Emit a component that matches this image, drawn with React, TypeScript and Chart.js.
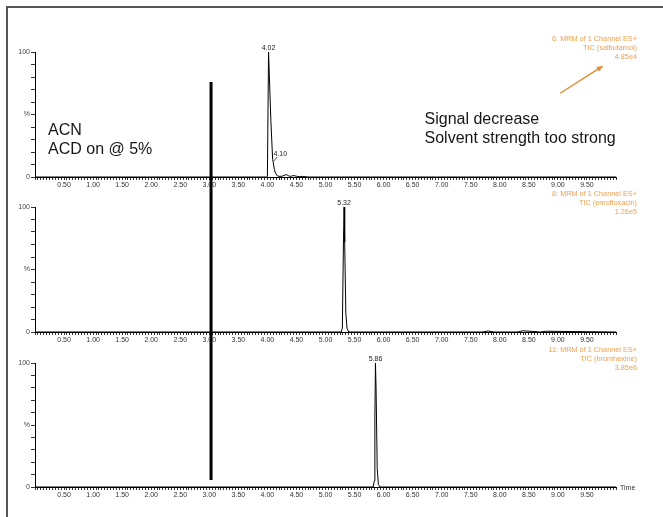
import React, { useEffect, useRef } from "react";
import { Chart, registerables } from "chart.js";

Chart.register(...registerables);

const FONT = "'Liberation Sans', Arial, Helvetica, sans-serif";
const PAGE_W = 663;
const PAGE_H = 517;

// ---- data -------------------------------------------------------------

// Retention time (min) and relative intensity (%) for each MRM trace
const salbutamolTime = [0, 3.99, 4.0, 4.02, 4.06, 4.09, 4.1, 4.12, 4.14, 4.17, 4.2, 4.25, 4.3, 4.33, 4.36, 4.4, 4.45, 4.5, 4.55, 4.6, 4.7, 10];
const salbutamolIntensity = [0, 0, 0.5, 100, 45, 14, 12, 6, 3, 1, 0.5, 0.6, 1.5, 2, 1, 0.5, 1.2, 0.6, 0.3, 0.5, 0, 0];

const enrofloxacinTime = [0, 5.27, 5.29, 5.31, 5.32, 5.33, 5.35, 5.37, 5.4, 7.7, 7.8, 7.9, 8.3, 8.4, 8.7, 8.8, 10];
const enrofloxacinIntensity = [0, 0, 3, 75, 100, 72, 15, 3, 0, 0, 0.8, 0, 0, 1, 0, 0.6, 0];

const bromhexineTime = [0, 5.82, 5.84, 5.85, 5.86, 5.87, 5.89, 5.91, 5.94, 10];
const bromhexineIntensity = [0, 0, 5, 55, 100, 80, 15, 2, 0, 0];

// Apex annotations
const salbutamolPeaks = [
  { time: 4.02, value: 100, text: "4.02", leader: false },
  { time: 4.1, value: 12, text: "4.10", leader: true },
];
const enrofloxacinPeaks = [{ time: 5.32, value: 100, text: "5.32", leader: false }];
const bromhexinePeaks = [{ time: 5.86, value: 100, text: "5.86", leader: false }];

// Trace headers
const salbutamolInfo = ["6: MRM of 1 Channel ES+", "TIC (salbutamol)", "4.85e4"];
const enrofloxacinInfo = ["8: MRM of 1 Channel ES+", "TIC (enrofloxacin)", "1.26e5"];
const bromhexineInfo = ["11: MRM of 1 Channel ES+", "TIC (bromhexine)", "3.85e6"];

// Axis labels
const xTickLabels = ["0.50", "1.00", "1.50", "2.00", "2.50", "3.00", "3.50", "4.00", "4.50", "5.00", "5.50", "6.00", "6.50", "7.00", "7.50", "8.00", "8.50", "9.00", "9.50"];
const yTickLabels: Record<string, string> = { "0": "0", "50": "%", "100": "100" };

// Solvent-switch marker and notes
const markerTime = 3.03;
const markerTopValue = 76;
const markerBottomValue = 5.6;
const arrowFrom = { time: 9.04, value: 67 };
const arrowTo = { time: 9.78, value: 89 };
const leftNote = ["ACN", "ACD on @ 5%"];
const rightNote = ["Signal decrease", "Solvent strength too strong"];

// ---- layout -----------------------------------------------------------

type Peak = { time: number; value: number; text: string; leader: boolean };

type PanelDef = {
  top: number;
  height: number;
  padTop: number;
  xAxisH: number;
  padBottom: number;
  time: number[];
  intensity: number[];
  peaks: Peak[];
  info: string[];
};

const panels: PanelDef[] = [
  { top: 0, height: 189, padTop: 52, xAxisH: 12, padBottom: 0, time: salbutamolTime, intensity: salbutamolIntensity, peaks: salbutamolPeaks, info: salbutamolInfo },
  { top: 189, height: 156, padTop: 18, xAxisH: 13, padBottom: 0, time: enrofloxacinTime, intensity: enrofloxacinIntensity, peaks: enrofloxacinPeaks, info: enrofloxacinInfo },
  { top: 345, height: 172, padTop: 18, xAxisH: 13, padBottom: 17, time: bromhexineTime, intensity: bromhexineIntensity, peaks: bromhexinePeaks, info: bromhexineInfo },
];

const ORANGE_TEXT = "#f0a04e";
const ORANGE_LINE = "#e8892c";

function Panel({ def, index }: { def: PanelDef; index: number }) {
  const ref = useRef<HTMLCanvasElement | null>(null);

  useEffect(() => {
    const canvas = ref.current;
    if (!canvas) return;
    const isFirst = index === 0;
    const isLast = index === panels.length - 1;

    const overlay = {
      id: "traceOverlay",
      afterDraw(chart: any) {
        const ctx = chart.ctx as CanvasRenderingContext2D;
        const xs = chart.scales.x;
        const ys = chart.scales.y;
        const area = chart.chartArea;
        ctx.save();

        // peak labels
        ctx.fillStyle = "#222";
        ctx.font = `7px ${FONT}`;
        def.peaks.forEach((p) => {
          const px = xs.getPixelForValue(p.time);
          const py = ys.getPixelForValue(p.value);
          if (p.leader) {
            ctx.strokeStyle = "#222";
            ctx.lineWidth = 0.8;
            ctx.beginPath();
            ctx.moveTo(px + 0.5, py - 1);
            ctx.lineTo(px + 4, py - 5);
            ctx.stroke();
            ctx.textAlign = "center";
            ctx.textBaseline = "bottom";
            ctx.fillText(p.text, px + 7, py - 4.5);
          } else {
            ctx.textAlign = "center";
            ctx.textBaseline = "bottom";
            ctx.fillText(p.text, px, py - 0.5);
          }
        });

        // trace header
        ctx.fillStyle = ORANGE_TEXT;
        ctx.font = `7.3px ${FONT}`;
        ctx.textAlign = "right";
        ctx.textBaseline = "middle";
        def.info.forEach((line, i) => {
          ctx.fillText(line, 637, area.top - 13 + i * 9);
        });

        // solvent-switch marker
        const mx = xs.getPixelForValue(markerTime);
        const y0 = isFirst ? ys.getPixelForValue(markerTopValue) : 0;
        const y1 = isLast ? ys.getPixelForValue(markerBottomValue) : chart.height;
        ctx.strokeStyle = "#000";
        ctx.lineWidth = 3;
        ctx.beginPath();
        ctx.moveTo(mx, y0);
        ctx.lineTo(mx, y1);
        ctx.stroke();

        if (isFirst) {
          ctx.fillStyle = "#161616";
          ctx.font = `16px ${FONT}`;
          ctx.textAlign = "left";
          ctx.textBaseline = "alphabetic";
          leftNote.forEach((line, i) => ctx.fillText(line, 48, 135 + i * 18.5));
          rightNote.forEach((line, i) => ctx.fillText(line, 424.5, 124 + i * 18.5));

          // arrow
          const ax0 = xs.getPixelForValue(arrowFrom.time);
          const ay0 = ys.getPixelForValue(arrowFrom.value);
          const ax1 = xs.getPixelForValue(arrowTo.time);
          const ay1 = ys.getPixelForValue(arrowTo.value);
          const ang = Math.atan2(ay1 - ay0, ax1 - ax0);
          ctx.strokeStyle = ORANGE_LINE;
          ctx.fillStyle = ORANGE_LINE;
          ctx.lineWidth = 1.4;
          ctx.beginPath();
          ctx.moveTo(ax0, ay0);
          ctx.lineTo(ax1 - 4 * Math.cos(ang), ay1 - 4 * Math.sin(ang));
          ctx.stroke();
          const hl = 7;
          ctx.beginPath();
          ctx.moveTo(ax1, ay1);
          ctx.lineTo(ax1 - hl * Math.cos(ang - 0.4), ay1 - hl * Math.sin(ang - 0.4));
          ctx.lineTo(ax1 - hl * Math.cos(ang + 0.4), ay1 - hl * Math.sin(ang + 0.4));
          ctx.closePath();
          ctx.fill();
        }

        if (isLast) {
          ctx.fillStyle = "#333";
          ctx.font = `7px ${FONT}`;
          ctx.textAlign = "left";
          ctx.textBaseline = "middle";
          ctx.fillText("Time", area.right + 4, area.bottom + 1);
        }
        ctx.restore();
      },
    };

    const chart = new Chart(canvas, {
      type: "line",
      data: {
        datasets: [
          {
            data: def.time.map((t, i) => ({ x: t, y: def.intensity[i] })),
            borderColor: "#000",
            borderWidth: 1,
            pointRadius: 0,
            tension: 0,
            fill: false,
          },
        ],
      },
      options: {
        animation: false,
        responsive: false,
        devicePixelRatio: 1,
        events: [],
        layout: { padding: { top: def.padTop, right: 47, bottom: def.padBottom, left: 0 } },
        plugins: { legend: { display: false }, tooltip: { enabled: false }, title: { display: false } },
        scales: {
          x: {
            type: "linear",
            min: 0,
            max: 10,
            afterFit: (s: any) => {
              s.height = def.xAxisH;
            },
            border: { display: true, color: "#000", width: 1 },
            grid: { display: true, drawOnChartArea: false, drawTicks: true, tickLength: 3, tickColor: "#000", tickWidth: 0.8 },
            ticks: {
              stepSize: 0.05,
              autoSkip: false,
              maxRotation: 0,
              padding: 1,
              color: "#333",
              font: { size: 7, family: FONT },
              callback: (v: any) => {
                const s = Number(v).toFixed(2);
                return xTickLabels.includes(s) ? s : "";
              },
            },
          },
          y: {
            type: "linear",
            min: 0,
            max: 100,
            afterFit: (s: any) => {
              s.width = 35;
            },
            border: { display: true, color: "#000", width: 1 },
            grid: { display: true, drawOnChartArea: false, drawTicks: true, tickLength: 4, tickColor: "#000", tickWidth: 0.8 },
            ticks: {
              stepSize: 10,
              autoSkip: false,
              padding: 1,
              color: "#444",
              font: { size: 7, family: FONT },
              callback: (v: any) => yTickLabels[String(Math.round(Number(v)))] ?? "",
            },
          },
        },
      },
      plugins: [overlay],
    } as any);

    return () => chart.destroy();
  }, [def, index]);

  return (
    <canvas
      ref={ref}
      width={PAGE_W}
      height={def.height}
      style={{ position: "absolute", left: 0, top: def.top, width: PAGE_W, height: def.height, display: "block" }}
    />
  );
}

export default function App() {
  return (
    <div
      style={{
        position: "fixed",
        left: 0,
        top: 0,
        width: PAGE_W,
        height: PAGE_H,
        background: "#fff",
        overflow: "hidden",
      }}
    >
      <div
        style={{
          position: "absolute",
          left: 6,
          top: 6,
          right: 0,
          bottom: 0,
          borderLeft: "2px solid #555",
          borderTop: "2px solid #555",
        }}
      />
      {panels.map((p, i) => (
        <Panel key={i} def={p} index={i} />
      ))}
    </div>
  );
}
